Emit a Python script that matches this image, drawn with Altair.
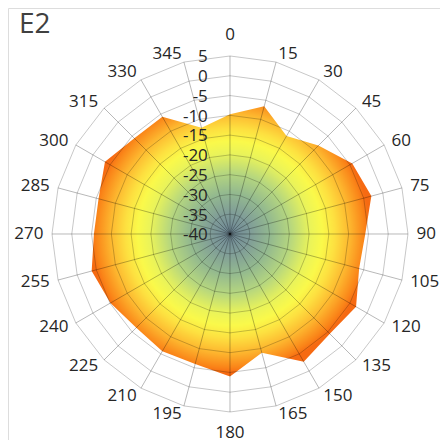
import altair as alt
import pandas as pd

# ---- data ----
title_text = "E2"
angles = [0, 15, 30, 45, 60, 75, 90, 105, 120, 135, 150, 165,
          180, 195, 210, 225, 240, 255, 270, 285, 300, 315, 330, 345]
values = [-9.7, -6.6, -11.4, -8.4, -4.3, -3.0, -5.8, -6.2, -3.2, -4.3, -2.7, -8.9,
          -4.0, -6.0, -5.8, -6.5, -5.1, -3.8, -5.6, -5.6, -3.5, -5.8, -5.8, -12.2]
ring_values = [-35, -30, -25, -20, -15, -10, -5, 0, 5]
tick_values = [-40, -35, -30, -25, -20, -15, -10, -5, 0, 5]
tick_labels = ["-40", "-35", "-30", "-25", "-20", "-15", "-10", "-5", "0", "5"]
angle_labels = [str(a) for a in angles]
r_min = -40
r_max = 5

# ---- tables ----
series = pd.DataFrame({"angle": angles, "value": values})
rings = pd.DataFrame([{"ring": rv, "angle": a, "value": rv} for rv in ring_values for a in angles])
spokes = pd.DataFrame({"angle": angles, "value": [r_max] * len(angles)})
alabels = pd.DataFrame({"angle": angles, "label": angle_labels})
ticks = pd.DataFrame({"value": tick_values, "label": tick_labels})

# layout (in radial units; 1 unit ~ 3.96 px)
xdom = [-56.12, 53.09]
ydom = [-52.08, 57.13]
xs = alt.Scale(domain=xdom, nice=False, zero=False)
ys = alt.Scale(domain=ydom, nice=False, zero=False)
FONT = "Open Sans"


def polar(chart, rexpr):
    return chart.transform_calculate(
        r=rexpr
    ).transform_calculate(
        x="datum.r * sin(datum.angle * PI / 180)",
        y="datum.r * cos(datum.angle * PI / 180)",
    )


X = alt.X("x:Q", scale=xs, axis=None)
Y = alt.Y("y:Q", scale=ys, axis=None)

grad = alt.Gradient(
    gradient="radial",
    stops=[
        alt.GradientStop(offset=0.0, color="#6e8796"),
        alt.GradientStop(offset=0.14, color="#7f9c98"),
        alt.GradientStop(offset=0.29, color="#93b98f"),
        alt.GradientStop(offset=0.43, color="#b5d67f"),
        alt.GradientStop(offset=0.57, color="#e9f35a"),
        alt.GradientStop(offset=0.66, color="#faf94a"),
        alt.GradientStop(offset=0.75, color="#fde040"),
        alt.GradientStop(offset=0.86, color="#fdb52e"),
        alt.GradientStop(offset=0.96, color="#fa8418"),
        alt.GradientStop(offset=1.0, color="#f66a12"),
    ],
    x1=0.495, y1=0.471, r1=0,
    x2=0.495, y2=0.471, r2=0.5,
)

area = polar(alt.Chart(series), f"datum.value - ({r_min})").mark_line(
    interpolate="linear-closed", fill=grad, strokeOpacity=0, strokeWidth=0
).encode(x=X, y=Y, order=alt.Order("angle:Q"))

ring_layer = polar(alt.Chart(rings), f"datum.value - ({r_min})").mark_line(
    interpolate="linear-closed", color="#000000", strokeOpacity=0.22, strokeWidth=1
).encode(x=X, y=Y, detail="ring:N", order=alt.Order("angle:Q"))

spoke_layer = polar(alt.Chart(spokes), f"datum.value - ({r_min})").transform_calculate(
    x0="0", y0="0"
).mark_rule(color="#000000", strokeOpacity=0.28, strokeWidth=1).encode(
    x=alt.X("x0:Q", scale=xs, axis=None), y=alt.Y("y0:Q", scale=ys, axis=None),
    x2="x:Q", y2="y:Q"
)

text_common = dict(font=FONT, fontSize=17, color="#262626", baseline="middle")

right_lbl = polar(alt.Chart(alabels).transform_filter("datum.angle > 0 && datum.angle < 180"),
                  "47.15").mark_text(align="left", **text_common).encode(x=X, y=Y, text="label:N")
left_lbl = polar(alt.Chart(alabels).transform_filter("datum.angle > 180"),
                 "47.15").mark_text(align="right", **text_common).encode(x=X, y=Y, text="label:N")
mid_lbl = polar(alt.Chart(alabels).transform_filter("datum.angle == 0 || datum.angle == 180"),
                "50.3").mark_text(align="center", **text_common).encode(x=X, y=Y, text="label:N")

tick_layer = alt.Chart(ticks).transform_calculate(
    x="-5.6", y=f"datum.value - ({r_min}) - 0.35"
).mark_text(align="right", **text_common).encode(x=X, y=Y, text="label:N")

title_layer = alt.Chart(pd.DataFrame({"t": [title_text]})).mark_text(
    font=FONT, fontSize=28, color="#404040", align="left", baseline="alphabetic"
).encode(text="t:N", x=alt.value(11), y=alt.value(25))

chart = alt.layer(
    area, ring_layer, spoke_layer, right_lbl, left_lbl, mid_lbl, tick_layer, title_layer
).properties(
    width=432, height=432, autosize=alt.AutoSizeParams(type="none"), padding=0
).configure_view(stroke=None).configure(background="white")

chart.save("out.html", embed_options={"renderer": "svg", "actions": False})
